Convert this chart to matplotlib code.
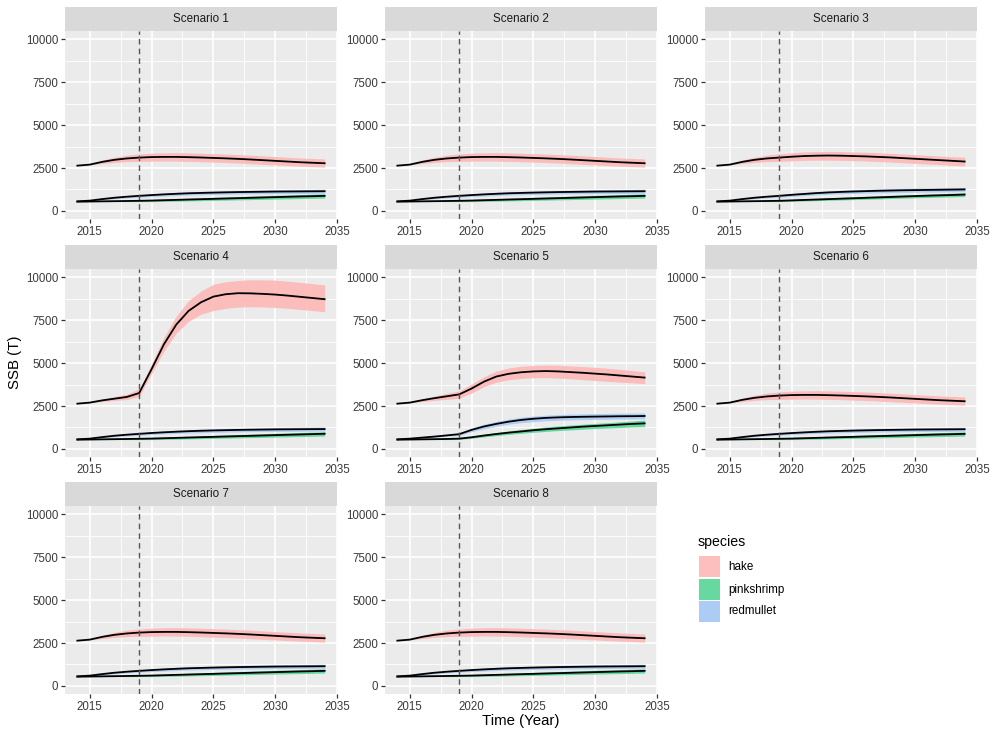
import matplotlib
matplotlib.use('Agg')
import matplotlib.pyplot as plt
from matplotlib.patches import Rectangle

# ---------------- data ----------------
years = list(range(2014, 2035))

# scenarios 1, 2, 6, 7, 8 look the same
base_hake    = [2640, 2700, 2860, 2980, 3060, 3110, 3140, 3150, 3150, 3135, 3115, 3090, 3065, 3035, 3000, 2960, 2920, 2880, 2840, 2810, 2780]
base_hake_lo = [2640, 2690, 2760, 2830, 2870, 2890, 2900, 2910, 2905, 2890, 2870, 2845, 2820, 2790, 2755, 2715, 2680, 2645, 2610, 2580, 2555]
base_hake_hi = [2640, 2710, 2960, 3130, 3250, 3320, 3370, 3390, 3395, 3385, 3365, 3340, 3315, 3285, 3250, 3210, 3170, 3130, 3090, 3060, 3030]
base_mul     = [560, 600, 690, 770, 830, 880, 925, 965, 1000, 1030, 1050, 1070, 1085, 1100, 1110, 1120, 1130, 1135, 1140, 1145, 1150]
base_mul_lo  = [560, 590, 650, 710, 760, 800, 835, 870, 900, 925, 945, 960, 975, 985, 995, 1005, 1010, 1015, 1020, 1025, 1030]
base_mul_hi  = [560, 610, 720, 810, 880, 940, 995, 1040, 1080, 1110, 1135, 1155, 1175, 1190, 1205, 1215, 1225, 1235, 1245, 1255, 1265]
base_shr     = [540, 550, 560, 570, 580, 590, 605, 625, 645, 665, 685, 705, 725, 745, 765, 785, 805, 825, 845, 860, 880]
base_shr_lo  = [540, 545, 545, 545, 545, 545, 545, 555, 570, 585, 600, 615, 630, 645, 660, 675, 690, 705, 720, 735, 750]
base_shr_hi  = [540, 560, 580, 600, 620, 640, 665, 690, 715, 740, 765, 790, 815, 840, 865, 890, 915, 935, 955, 975, 995]

s3_hake    = [2640, 2700, 2860, 2980, 3060, 3110, 3160, 3200, 3220, 3230, 3220, 3200, 3180, 3150, 3120, 3080, 3040, 3000, 2960, 2920, 2880]
s3_hake_lo = [2640, 2690, 2760, 2830, 2870, 2890, 2920, 2950, 2960, 2960, 2950, 2930, 2910, 2880, 2850, 2810, 2770, 2730, 2700, 2660, 2630]
s3_hake_hi = [2640, 2710, 2960, 3130, 3250, 3330, 3390, 3440, 3460, 3470, 3460, 3440, 3420, 3390, 3360, 3320, 3280, 3240, 3200, 3160, 3130]
s3_mul     = [560, 600, 690, 770, 830, 880, 940, 990, 1040, 1080, 1110, 1135, 1155, 1175, 1190, 1205, 1215, 1225, 1235, 1245, 1255]
s3_mul_lo  = [560, 590, 650, 710, 760, 800, 850, 895, 935, 970, 1000, 1020, 1040, 1055, 1070, 1080, 1090, 1100, 1110, 1115, 1125]
s3_mul_hi  = [560, 610, 720, 810, 880, 940, 1010, 1070, 1125, 1170, 1205, 1235, 1260, 1280, 1300, 1315, 1330, 1340, 1350, 1360, 1370]
s3_shr     = [540, 550, 560, 570, 580, 590, 615, 640, 665, 690, 715, 740, 765, 790, 815, 840, 865, 890, 910, 930, 955]
s3_shr_lo  = [540, 545, 545, 545, 545, 545, 560, 580, 600, 620, 640, 660, 680, 700, 725, 745, 765, 785, 805, 820, 840]
s3_shr_hi  = [540, 560, 580, 600, 620, 640, 675, 705, 735, 765, 795, 825, 855, 885, 910, 935, 960, 985, 1010, 1035, 1060]

s4_hake    = [2640, 2700, 2830, 2930, 3030, 3260, 4650, 6100, 7250, 8050, 8550, 8880, 9020, 9080, 9070, 9040, 9000, 8940, 8870, 8800, 8730]
s4_hake_lo = [2640, 2690, 2760, 2830, 2880, 3060, 4400, 5700, 6750, 7450, 7850, 8070, 8200, 8270, 8290, 8280, 8250, 8200, 8130, 8070, 8000]
s4_hake_hi = [2640, 2710, 2900, 3060, 3190, 3510, 4950, 6500, 7750, 8650, 9200, 9600, 9750, 9820, 9860, 9860, 9840, 9780, 9710, 9640, 9560]
s4_mul     = [560, 600, 690, 770, 830, 880, 930, 970, 1005, 1035, 1060, 1080, 1095, 1110, 1120, 1130, 1140, 1145, 1150, 1155, 1160]
s4_mul_lo  = [560, 590, 650, 710, 760, 800, 840, 875, 905, 930, 950, 970, 985, 995, 1005, 1015, 1020, 1025, 1030, 1035, 1040]
s4_mul_hi  = [560, 610, 720, 810, 880, 940, 1000, 1050, 1090, 1125, 1150, 1170, 1190, 1205, 1220, 1230, 1240, 1250, 1260, 1270, 1280]
s4_shr     = [540, 550, 560, 570, 580, 590, 605, 625, 645, 665, 685, 705, 725, 745, 765, 785, 805, 825, 845, 865, 885]
s4_shr_lo  = [540, 545, 545, 545, 545, 545, 545, 555, 570, 585, 600, 615, 630, 645, 660, 675, 690, 705, 720, 735, 755]
s4_shr_hi  = [540, 560, 580, 600, 620, 640, 665, 690, 715, 740, 765, 790, 815, 840, 865, 890, 915, 940, 960, 980, 1000]

s5_hake    = [2640, 2700, 2840, 2960, 3070, 3180, 3520, 3920, 4220, 4380, 4470, 4520, 4540, 4520, 4480, 4440, 4390, 4340, 4280, 4220, 4160]
s5_hake_lo = [2640, 2690, 2760, 2830, 2890, 2960, 3260, 3630, 3890, 4030, 4110, 4150, 4160, 4130, 4090, 4040, 3990, 3940, 3890, 3850, 3810]
s5_hake_hi = [2640, 2710, 2920, 3090, 3240, 3380, 3780, 4200, 4540, 4720, 4820, 4870, 4890, 4880, 4840, 4800, 4760, 4700, 4640, 4570, 4500]
s5_mul     = [560, 600, 660, 720, 790, 860, 1110, 1310, 1460, 1590, 1690, 1760, 1810, 1840, 1860, 1875, 1885, 1895, 1905, 1910, 1920]
s5_mul_lo  = [560, 590, 630, 680, 740, 790, 1000, 1180, 1320, 1440, 1530, 1590, 1640, 1670, 1690, 1710, 1720, 1730, 1740, 1750, 1760]
s5_mul_hi  = [560, 610, 690, 770, 850, 930, 1220, 1440, 1610, 1740, 1850, 1920, 1970, 2000, 2030, 2045, 2060, 2070, 2080, 2090, 2100]
s5_shr     = [540, 550, 560, 570, 580, 600, 680, 780, 870, 950, 1020, 1090, 1150, 1200, 1250, 1300, 1340, 1380, 1420, 1460, 1490]
s5_shr_lo  = [540, 545, 545, 545, 545, 555, 620, 700, 780, 850, 910, 970, 1020, 1070, 1110, 1150, 1190, 1220, 1250, 1280, 1300]
s5_shr_hi  = [540, 560, 580, 600, 620, 650, 740, 860, 960, 1050, 1130, 1210, 1280, 1340, 1390, 1440, 1490, 1530, 1580, 1630, 1680]

scenario_names = ['Scenario %d' % i for i in range(1, 9)]
species = ['hake', 'pinkshrimp', 'redmullet']
species_colors = ['#FFB4B4', '#4ED393', '#A6C9F5']
key_colors = ['#FDBEBE', '#66D8A0', '#ABCDF5']

base_set = [(base_hake, base_hake_lo, base_hake_hi),
            (base_shr, base_shr_lo, base_shr_hi),
            (base_mul, base_mul_lo, base_mul_hi)]
s3_set = [(s3_hake, s3_hake_lo, s3_hake_hi),
          (s3_shr, s3_shr_lo, s3_shr_hi),
          (s3_mul, s3_mul_lo, s3_mul_hi)]
s4_set = [(s4_hake, s4_hake_lo, s4_hake_hi),
          (s4_shr, s4_shr_lo, s4_shr_hi),
          (s4_mul, s4_mul_lo, s4_mul_hi)]
s5_set = [(s5_hake, s5_hake_lo, s5_hake_hi),
          (s5_shr, s5_shr_lo, s5_shr_hi),
          (s5_mul, s5_mul_lo, s5_mul_hi)]
scenario_data = [base_set, base_set, s3_set, s4_set, s5_set, base_set, base_set, base_set]

x_ticks = [2015, 2020, 2025, 2030, 2035]
y_ticks = [0, 2500, 5000, 7500, 10000]
proj_start = 2019

# ---------------- figure ----------------
plt.rcParams['font.family'] = ['Liberation Sans', 'DejaVu Sans']

W, H = 998, 737
fig = plt.figure(figsize=(W / 100, H / 100), dpi=100)

col_left = [65, 385, 705]
row_top = [31, 269, 506]
panel_w, panel_h = 272, 188
strip_h = 24


def make_panel(i):
    r, c = divmod(i, 3)
    x0 = col_left[c]
    y0 = row_top[r]
    ax = fig.add_axes([x0 / W, 1 - (y0 + panel_h) / H, panel_w / W, panel_h / H])
    ax.set_facecolor('#EBEBEB')
    for s in ax.spines.values():
        s.set_visible(False)
    ax.set_xlim(2013, 2035)
    ax.set_ylim(-470, 10490)
    ax.set_xticks(x_ticks)
    ax.set_yticks(y_ticks)
    ax.set_xticks([2017.5, 2022.5, 2027.5, 2032.5], minor=True)
    ax.set_yticks([1250, 3750, 6250, 8750], minor=True)
    ax.grid(True, which='major', color='white', lw=1.2)
    ax.grid(True, which='minor', color='white', lw=0.6)
    ax.set_axisbelow(True)
    ax.tick_params(which='major', length=3, width=0.9, color='#333333',
                   labelsize=8.3, labelcolor='#3A3A3A', pad=2)
    ax.tick_params(which='minor', length=0)

    # strip on top
    strip = Rectangle((0, 1), 1, strip_h / panel_h, transform=ax.transAxes,
                      facecolor='#D9D9D9', edgecolor='none', clip_on=False)
    ax.add_patch(strip)
    ax.text(0.5, 1 + strip_h / panel_h / 2, scenario_names[i], transform=ax.transAxes,
            ha='center', va='center', fontsize=8.4, color='#1A1A1A')
    return ax


for i in range(8):
    ax = make_panel(i)
    for (mean, lo, hi), col in zip(scenario_data[i], species_colors):
        ax.fill_between(years, lo, hi, color=col, alpha=0.85, lw=0)
    for (mean, lo, hi), col in zip(scenario_data[i], species_colors):
        ax.plot(years, mean, color='black', lw=1.3)
    ax.axvline(proj_start, color='#555555', lw=1.0, ls=(0, (4, 3)))

# axis titles
fig.text(15 / W, 1 - 362 / H, 'SSB (T)', rotation=90, ha='center', va='center', fontsize=10.8)
fig.text(521 / W, 1 - 721 / H, 'Time (Year)', ha='center', va='center', fontsize=10.8)

# legend
fig.text(698 / W, 1 - 542 / H, 'species', ha='left', va='center', fontsize=10.2)
key_tops = [556, 579, 601]
for top, name, col in zip(key_tops, species, key_colors):
    fig.add_artist(Rectangle((699 / W, 1 - (top + 21) / H), 21 / W, 21 / H,
                             transform=fig.transFigure, facecolor=col,
                             edgecolor='none'))
    fig.text(728 / W, 1 - (top + 10.5) / H, name, ha='left', va='center', fontsize=8.4)

plt.savefig('out.png', dpi=100)
